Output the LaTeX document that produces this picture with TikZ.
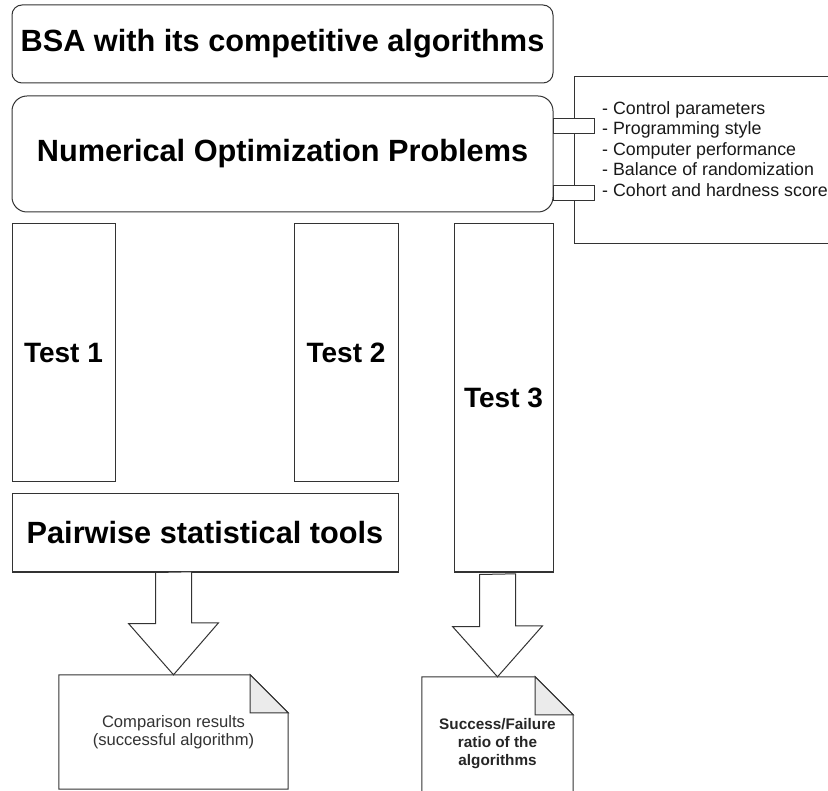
\documentclass[tikz,border=0pt]{standalone}
\usepackage{fontspec}
\setmainfont{Liberation Sans}
\usetikzlibrary{calc}

\tikzset{
  edge/.style={draw=black!80,line width=1pt,line join=miter},
  box/.style={rectangle,edge,fill=white,inner sep=1pt},
  bigtxt/.style={font=\bfseries\fontsize{30.7}{36}\selectfont},
  testtxt/.style={font=\bfseries\fontsize{28}{33}\selectfont},
  doctxt/.style={align=center,inner sep=1pt,font=\fontsize{16.6}{18.5}\selectfont,text=black!80},
}

\begin{document}
\begin{tikzpicture}[x=1pt,y=-1pt]
        \useasboundingbox (0,0) rectangle (828,791);
        \clip (0,0) rectangle (828,791);
        % top boxes
        \node at (282.5,44) [box,rounded corners=10pt,minimum width=541pt,minimum height=78pt,bigtxt] (bsa) {BSA with its competitive algorithms};
        \node at (282.5,154) [box,rounded corners=15pt,minimum width=541pt,minimum height=116pt,bigtxt] (nop) {Numerical Optimization Problems};
        \node at (574,76) [box,anchor=north west,minimum width=330pt,minimum height=167pt] (par) {};
        \node at (602,149) [anchor=west,align=left,inner sep=0pt,font=\fontsize{17.8}{20.5}\selectfont,text=black!90] (parlist) {- Control parameters\\- Programming style\\- Computer performance\\- Balance of randomization\\- Cohort and hardness score};
        \node at (573.5,126.5) [box,minimum width=41pt,minimum height=15pt] (lnka) {};
        \node at (573.5,193.5) [box,minimum width=41pt,minimum height=15pt] (lnkb) {};
        % tests
        \node at (63.5,353) [box,minimum width=103pt,minimum height=258pt,testtxt] (test1) {Test 1};
        \node at (346,353) [box,minimum width=104pt,minimum height=258pt,testtxt] (test2) {Test 2};
        \node at (503.5,398) [box,minimum width=99pt,minimum height=348pt,testtxt] (test3) {Test 3};
        \node at (205,533) [box,minimum width=386pt,minimum height=78pt,bigtxt] (pair) {Pairwise statistical tools};
        % results
        \node at (173.5,732) [minimum width=229pt,minimum height=114pt,doctxt] (doc1) {Comparison results\\(successful algorithm)};
        \node at (497.5,744) [minimum width=151pt,minimum height=134pt,doctxt,font=\bfseries\fontsize{15.3}{18}\selectfont,text=black!85] (doc2) {Success/Failure\\ratio of the\\algorithms};
        \foreach \d in {doc1,doc2} {
          \draw[edge] (\d.north west) -- ($(\d.north east)+(-38,0)$) -- ($(\d.north east)+(0,38)$) -- (\d.south east) -- (\d.south west) -- cycle;
          \draw[edge,fill=black!8] ($(\d.north east)+(-38,0)$) -- ($(\d.north east)+(-38,38)$) -- ($(\d.north east)+(0,38)$) -- cycle;
        }
        % block arrows
        \draw[edge,fill=white] (doc1.north |- pair.south) ++(-18,0) -- ++(0,51) -- ++(-27,0) -- (doc1.north) -- ++(45,-52) -- ++(-27,0) -- ++(0,-51) -- cycle;
        \draw[edge,fill=white] (doc2.north |- test3.south) ++(-18,2) -- ++(0,52) -- ++(-27,0) -- (doc2.north) -- ++(45,-51) -- ++(-27,0) -- ++(0,-52) -- cycle;
\end{tikzpicture}
\end{document}
